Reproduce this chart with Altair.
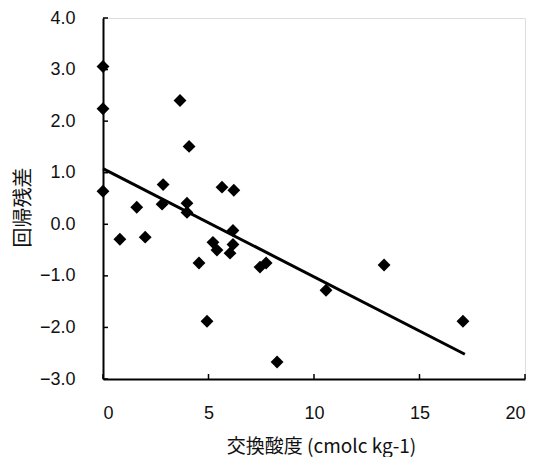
import altair as alt
import pandas as pd

# Data
acid = [0, 0, 0, 0.8, 1.6, 2.0, 2.85, 2.8, 3.65, 4.08, 3.98, 3.98, 4.55, 4.93,
        5.21, 5.4, 5.64, 6.2, 6.16, 6.16, 6.02, 7.44, 7.73, 8.25, 10.57, 13.32, 17.06]
resid = [3.06, 2.24, 0.64, -0.29, 0.33, -0.25, 0.77, 0.39, 2.40, 1.51, 0.41, 0.23, -0.75, -1.88,
         -0.35, -0.50, 0.72, 0.66, -0.12, -0.39, -0.56, -0.83, -0.75, -2.67, -1.28, -0.79, -1.88]

fit_x = [0, 17.15]
fit_y = [1.08, -2.52]

x_ticks = [0, 5, 10, 15, 20]
y_ticks = [-3, -2, -1, 0, 1, 2, 3, 4]

pts = pd.DataFrame({"x": acid, "y": resid})
fit = pd.DataFrame({"x": fit_x, "y": fit_y})
xt = pd.DataFrame({"x": x_ticks})
yt = pd.DataFrame({"y": y_ticks})

W, H = 422, 361

xscale = alt.Scale(domain=[0, 20], nice=False, zero=False)
yscale = alt.Scale(domain=[-3, 4], nice=False, zero=False)

xaxis = alt.Axis(
    values=x_ticks, format="d", ticks=False, grid=False,
    domainColor="#000", domainWidth=2,
    labelFont="Liberation Sans", labelFontSize=18, labelColor="#111", labelPadding=25,
    title="交換酸度 (cmolc kg-1)", titleFont="Noto Sans CJK JP", titleFontSize=19,
    titleFontWeight="normal", titleColor="#111",
    titleX=218, titleY=67, titleAlign="center", titleBaseline="middle",
)
yaxis = alt.Axis(
    values=y_ticks, format=".1f", ticks=False, grid=False,
    domainColor="#000", domainWidth=2,
    labelFont="Liberation Sans", labelFontSize=18, labelColor="#111", labelPadding=28,
    title="回帰残差", titleFont="Noto Sans CJK JP", titleFontSize=20,
    titleFontWeight="normal", titleColor="#111",
    titleX=-80, titleY=189, titleAlign="center", titleBaseline="middle", titleAngle=-90,
)

points = alt.Chart(pts).mark_point(shape="diamond", filled=True, size=165, color="#000", opacity=1).encode(
    x=alt.X("x:Q", scale=xscale, axis=xaxis),
    y=alt.Y("y:Q", scale=yscale, axis=yaxis),
)

line = alt.Chart(fit).mark_line(color="#000", strokeWidth=3).encode(
    x=alt.X("x:Q", scale=xscale),
    y=alt.Y("y:Q", scale=yscale),
)

yticks = alt.Chart(yt).mark_rule(color="#000", strokeWidth=1.5).encode(
    y=alt.Y("y:Q", scale=yscale),
    x=alt.value(0), x2=alt.value(5),
)
xticks = alt.Chart(xt).mark_rule(color="#000", strokeWidth=1.5).encode(
    x=alt.X("x:Q", scale=xscale),
    y=alt.value(H), y2=alt.value(H - 5),
)

chart = alt.layer(line, yticks, xticks, points).properties(
    width=W, height=H,
    autosize=alt.AutoSizeParams(type="none"),
    padding={"left": 95, "top": 10, "right": 10, "bottom": 78},
).configure_view(stroke=None).configure(background="white")

chart.save("out.html", embed_options={"renderer": "svg", "actions": False})
